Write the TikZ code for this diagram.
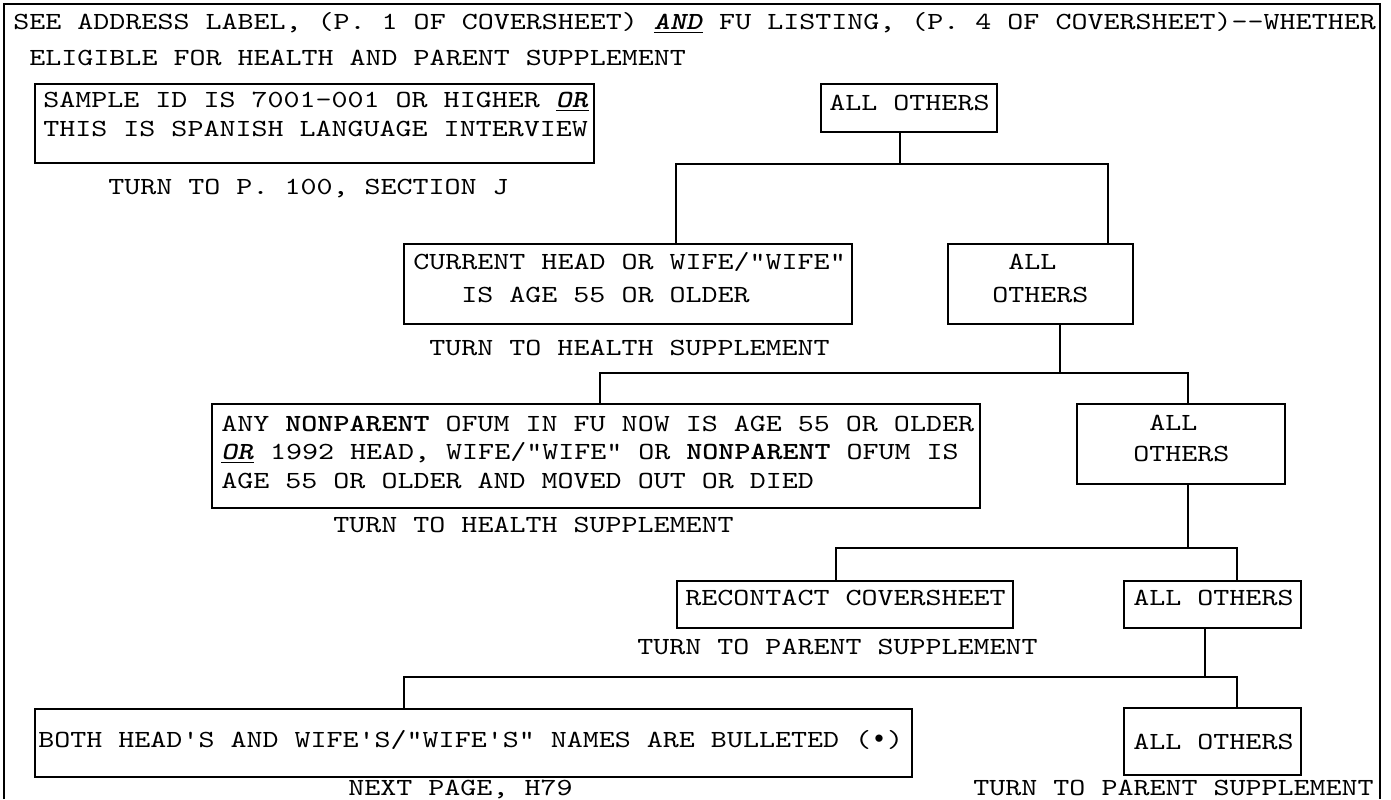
\documentclass[tikz,border=0pt]{standalone}
\usepackage{fontspec}
\newfontfamily\cour{lmmono10-regular.otf}[BoldFont=lmmonolt10-bold.otf, ItalicFont=lmmono10-italic.otf, BoldItalicFont=lmmonolt10-boldoblique.otf, FakeStretch=1.24]
\newfontfamily\bulfont{Liberation Mono}
\usetikzlibrary{fit}
\newcommand\ulbi[1]{\underline{\textbf{\textit{#1}}}}
\newcommand\bul{{\bulfont\fontsize{13.33pt}{16pt}\selectfont •}}
\begin{document}
\begin{tikzpicture}[x=0.5pt,y=-0.5pt,
  box/.style={draw, line width=0.6pt, inner sep=0pt},
  txt/.style={anchor=base west, inner sep=0pt, font=\cour\fontsize{12.3pt}{16pt}\selectfont\frenchspacing},
  conn/.style={draw, line width=0.6pt}]
\useasboundingbox (0,0) rectangle (1391,799);
% outer frame
\draw[conn] (4,799) -- (4,4) -- (1380,4) -- (1380,799);
% header
\node[txt] (t1) at (13,29.6) {SEE ADDRESS LABEL, (P. 1 OF COVERSHEET) \ulbi{AND} FU LISTING, (P. 4 OF COVERSHEET)-{}-WHETHER};
\node[txt] (t2) at (29,65.6) {ELIGIBLE FOR HEALTH AND PARENT SUPPLEMENT};
% box 1
\node[box, fit={(35,84) (594,163)}] (b1) {};
\node[txt] (t3) at (43,107.6) {SAMPLE ID IS 7001-001 OR HIGHER \ulbi{OR}};
\node[txt] (t4) at (43,136.6) {THIS IS SPANISH LANGUAGE INTERVIEW};
\node[txt] (t5) at (108,194.6) {TURN TO P. 100, SECTION J};
% all others top
\node[box, fit={(821,84) (997,132)}] (b2) {};
\node[txt] (t6) at (829,110.6) {ALL OTHERS};
% current head
\node[box, fit={(404,244) (852,324)}] (b3) {};
\node[txt] (t7) at (413,269.6) {CURRENT HEAD OR WIFE/"WIFE"};
\node[txt] (t8) at (461,302.6) {IS AGE 55 OR OLDER};
\node[txt] (t9) at (429,355.6) {TURN TO HEALTH SUPPLEMENT};
% all others 2
\node[box, fit={(948,244) (1133,324)}] (b4) {};
\node[txt] (t10) at (1008,269.6) {ALL};
\node[txt] (t11) at (992,302.6) {OTHERS};
% any nonparent
\node[box, fit={(212,404) (980,508)}] (b5) {};
\node[txt] (t12) at (221,431.6) {ANY \textbf{NONPARENT} OFUM IN FU NOW IS AGE 55 OR OLDER};
\node[txt] (t13) at (221,459.6) {\ulbi{OR} 1992 HEAD, WIFE/"WIFE" OR \textbf{NONPARENT} OFUM IS};
\node[txt] (t14) at (221,488.6) {AGE 55 OR OLDER AND MOVED OUT OR DIED};
\node[txt] (t15) at (333,532.6) {TURN TO HEALTH SUPPLEMENT};
% all others 3
\node[box, fit={(1077,404) (1285,484)}] (b6) {};
\node[txt] (t16) at (1149,430.6) {ALL};
\node[txt] (t17) at (1133,461.6) {OTHERS};
% recontact
\node[box, fit={(677,581) (1013,628)}] (b7) {};
\node[txt] (t18) at (685,605.6) {RECONTACT COVERSHEET};
\node[txt] (t19) at (637,654.6) {TURN TO PARENT SUPPLEMENT};
% all others 4
\node[box, fit={(1124,581) (1301,628)}] (b8) {};
\node[txt] (t20) at (1133,605.6) {ALL OTHERS};
% both head's
\node[box, fit={(35,709) (912,777)}] (b9) {};
\node[txt] (t21) at (38,747.6) {BOTH HEAD'S AND WIFE'S/"WIFE'S" NAMES ARE BULLETED (\bul)};
\node[txt] (t22) at (348,795) {NEXT PAGE, H79};
% all others 5
\node[box, fit={(1124,708) (1301,775)}] (b10) {};
\node[txt] (t23) at (1133,749.6) {ALL OTHERS};
\node[txt] (t24) at (973,795) {TURN TO PARENT SUPPLEMENT};
% connectors
\coordinate (s1) at (900,164);
\coordinate (j1l) at (676,164);
\coordinate (j1r) at (1108,164);
\draw[conn] (s1 |- b2.south) -- (s1);
\draw[conn] (j1l |- b3.north) -- (j1l) -- (j1r) -- (j1r |- b4.north);
\coordinate (s2) at (1060,373);
\coordinate (j2l) at (600,373);
\coordinate (j2r) at (1188,373);
\draw[conn] (s2 |- b4.south) -- (s2);
\draw[conn] (j2l |- b5.north) -- (j2l) -- (j2r) -- (j2r |- b6.north);
\coordinate (s3) at (1188,548);
\coordinate (j3l) at (836,548);
\coordinate (j3r) at (1237,548);
\draw[conn] (s3 |- b6.south) -- (s3);
\draw[conn] (j3l |- b7.north) -- (j3l) -- (j3r) -- (j3r |- b8.north);
\coordinate (s4) at (1205,677);
\coordinate (j4l) at (404,677);
\coordinate (j4r) at (1237,677);
\draw[conn] (s4 |- b8.south) -- (s4);
\draw[conn] (j4l |- b9.north) -- (j4l) -- (j4r) -- (j4r |- b10.north);
\end{tikzpicture}
\end{document}
